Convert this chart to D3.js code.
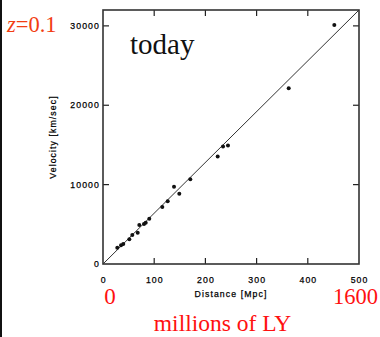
<!DOCTYPE html>
<html>
<head>
<meta charset="utf-8">
<script src="https://cdn.jsdelivr.net/npm/d3@7/dist/d3.min.js"></script>
<style>
  html, body { margin: 0; padding: 0; background: #fff; }
  svg { display: block; }
  .tick-label { font-family: "Liberation Sans", Arial, sans-serif; font-size: 8.7px; letter-spacing: 1.1px;
                fill: #000; stroke: #000; stroke-width: 0.25px; }
  .serif { font-family: "Liberation Serif", "Times New Roman", serif; }
</style>
</head>
<body>
<svg id="chart" width="380" height="337"></svg>
<script>
// Galaxy distances (Mpc) and recession velocities (km/s)
const distances = [27.9, 35.2, 39.6, 51.4, 57.2, 67.8, 70.9, 80.1, 83.4, 90.4,
                   115.8, 126.4, 138.7, 149.0, 170.5, 224.0, 234.4, 244.1, 362.7, 451.8];
const velocities = [2050, 2350, 2520, 3110, 3650, 3940, 4900, 5030, 5200, 5700,
                    7170, 7890, 9720, 8840, 10690, 13550, 14800, 14930, 22140, 30100];
// Best-fit line endpoints
const fitDistance = [0, 500];
const fitVelocity = [0, 32000];
// Axis ticks
const xTicks = [0, 100, 200, 300, 400, 500];
const yTicks = [0, 10000, 20000, 30000];

const svg = d3.select("#chart");
const plotLeft = 103, plotRight = 359, plotTop = 10, plotBottom = 264;

const x = d3.scaleLinear().domain([0, 500]).range([plotLeft, plotRight]);
const y = d3.scaleLinear().domain([0, 32000]).range([plotBottom, plotTop]);

// left page edge bar
svg.append("rect").attr("x", 0).attr("y", 0).attr("width", 2).attr("height", 337).attr("fill", "#111");

// inward ticks on all four sides
const tickLen = 6;
const g = svg.append("g").attr("stroke", "#222").attr("stroke-width", 1.2);
xTicks.slice(1, -1).forEach(t => {
  g.append("line").attr("x1", x(t)).attr("x2", x(t)).attr("y1", plotBottom).attr("y2", plotBottom - tickLen);
  g.append("line").attr("x1", x(t)).attr("x2", x(t)).attr("y1", plotTop).attr("y2", plotTop + tickLen);
});
yTicks.slice(1).forEach(t => {
  g.append("line").attr("x1", plotLeft).attr("x2", plotLeft + tickLen).attr("y1", y(t)).attr("y2", y(t));
  g.append("line").attr("x1", plotRight).attr("x2", plotRight - tickLen).attr("y1", y(t)).attr("y2", y(t));
});

// frame
svg.append("rect").attr("x", plotLeft).attr("y", plotTop)
  .attr("width", plotRight - plotLeft).attr("height", plotBottom - plotTop)
  .attr("fill", "none").attr("stroke", "#333").attr("stroke-width", 1.6);

// tick labels
svg.selectAll(".xl").data(xTicks).join("text").attr("class", "tick-label")
  .attr("x", d => x(d) + 0.6).attr("y", 283).attr("text-anchor", "middle").text(d => d);
svg.selectAll(".yl").data(yTicks).join("text").attr("class", "tick-label")
  .attr("x", 100).attr("y", d => y(d) + 3).attr("text-anchor", "end").text(d => d);

// axis titles
svg.append("text").attr("class", "tick-label").attr("x", x(250)).attr("y", 297)
  .attr("text-anchor", "middle").text("Distance [Mpc]");
svg.append("text").attr("class", "tick-label").attr("text-anchor", "middle")
  .attr("transform", `translate(56,${(plotTop + plotBottom) / 2}) rotate(-90)`).text("Velocity [km/sec]");

// fit line
svg.append("line").attr("x1", x(fitDistance[0])).attr("y1", y(fitVelocity[0]))
  .attr("x2", x(fitDistance[1])).attr("y2", y(fitVelocity[1]))
  .attr("stroke", "#333").attr("stroke-width", 1);

// data points
svg.selectAll("circle").data(distances).join("circle")
  .attr("cx", d => x(d)).attr("cy", (d, i) => y(velocities[i])).attr("r", 2).attr("fill", "#111");

// annotations
svg.append("text").attr("class", "serif").attr("x", 130).attr("y", 54).attr("font-size", 29)
  .attr("fill", "#111").text("today");

const z = svg.append("text").attr("class", "serif").attr("x", 7).attr("y", 32).attr("font-size", 22.5)
  .attr("fill", "#f23d12");
z.append("tspan").attr("font-style", "italic").text("z");
z.append("tspan").text("=0.1");

svg.append("text").attr("class", "serif").attr("x", 110).attr("y", 304).attr("font-size", 23)
  .attr("text-anchor", "middle").attr("fill", "#ff1010").text("0");
svg.append("text").attr("class", "serif").attr("x", 355.5).attr("y", 304).attr("font-size", 22.5)
  .attr("text-anchor", "middle").attr("fill", "#ff1010").text("1600");
svg.append("text").attr("class", "serif").attr("x", 222.5).attr("y", 331).attr("font-size", 23.5)
  .attr("text-anchor", "middle").attr("fill", "#ff1010").text("millions of LY");
</script>
</body>
</html>
